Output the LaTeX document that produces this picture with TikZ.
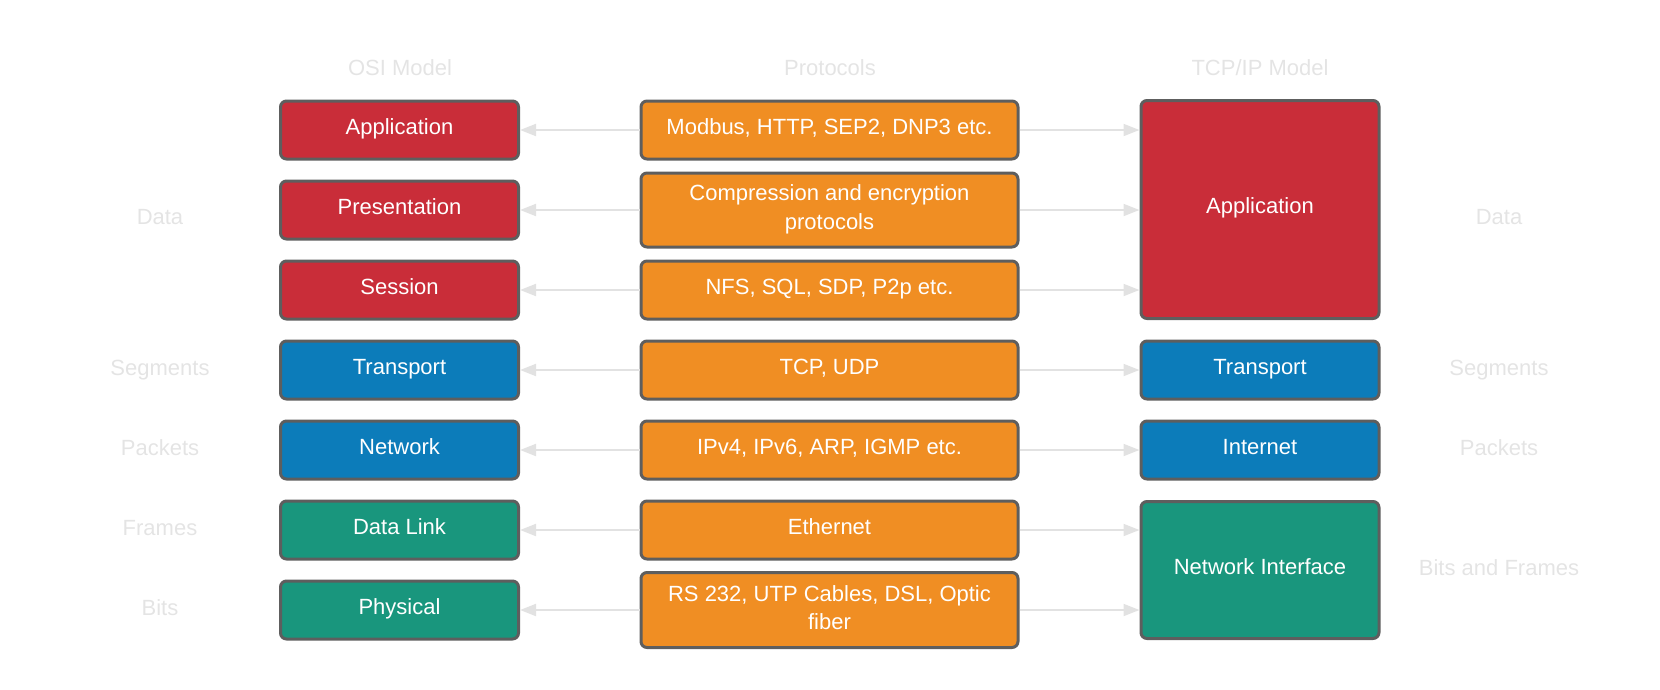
\documentclass[tikz,border=0pt]{standalone}
\usepackage{fontspec}
\setmainfont{Liberation Sans}
\usetikzlibrary{arrows.meta}
\definecolor{cred}{HTML}{C92D39}
\definecolor{cblue}{HTML}{0C7CBA}
\definecolor{cgreen}{HTML}{19967D}
\definecolor{corange}{HTML}{F08E23}
\definecolor{cborder}{HTML}{5E5E5E}
\definecolor{clabel}{HTML}{E4E4E4}
\definecolor{carrow}{HTML}{E2E2E2}
\newcommand{\twolines}[2]{\raisebox{0.5pt}[\height][\depth]{\renewcommand{\arraystretch}{1.07}\begin{tabular}{@{}c@{}}#1\\#2\end{tabular}}}
\begin{document}
\begin{tikzpicture}[x=1pt,y=-1pt,
  layer/.style={draw=cborder,line width=3pt,rounded corners=6pt,text=white,
    font=\fontsize{22}{26.5}\selectfont,align=center,inner sep=0pt,
    minimum width=238pt,minimum height=58pt},
  single/.style={text height=16pt,text depth=7.5pt},
  osi/.style={layer,single},
  proto/.style={layer,fill=corange,minimum width=377pt},
  tcp/.style={layer,single},
  lbl/.style={text=clabel,font=\fontsize{22}{26}\selectfont,inner sep=0pt},
  conn/.style={draw=carrow,line width=2pt,-{Triangle[length=16pt,width=12pt]}}]
\useasboundingbox (0,0) rectangle (1660,689);
% headers
\node[lbl] (hosi) at (400,68) {OSI Model};
\node[lbl] (hpro) at (830,68) {Protocols};
\node[lbl] (htcp) at (1260,68) {TCP/IP Model};
% OSI
\node[osi,fill=cred] (o1) at (399.5,130) {Application};
\node[osi,fill=cred] (o2) at (399.5,210) {Presentation};
\node[osi,fill=cred] (o3) at (399.5,290) {Session};
\node[osi,fill=cblue] (o4) at (399.5,370) {Transport};
\node[osi,fill=cblue] (o5) at (399.5,450) {Network};
\node[osi,fill=cgreen] (o6) at (399.5,530) {Data Link};
\node[osi,fill=cgreen] (o7) at (399.5,610) {Physical};
% protocols
\node[proto,single] (p1) at (829.5,130) {Modbus, HTTP, SEP2, DNP3 etc.};
\node[proto,minimum height=74pt] (p2) at (829.5,210) {\twolines{Compression and encryption}{protocols}};
\node[proto,single] (p3) at (829.5,290) {NFS, SQL, SDP, P2p etc.};
\node[proto,single] (p4) at (829.5,370) {TCP, UDP};
\node[proto,single] (p5) at (829.5,450) {IPv4, IPv6, ARP, IGMP etc.};
\node[proto,single] (p6) at (829.5,530) {Ethernet};
\node[proto,minimum height=75pt] (p7) at (829.5,610) {\twolines{RS 232, UTP Cables, DSL, Optic}{fiber}};
% TCP/IP
\node[tcp,fill=cred,minimum height=218pt] (t1) at (1260,209.5) {Application};
\node[tcp,fill=cblue] (t2) at (1260,370) {Transport};
\node[tcp,fill=cblue] (t3) at (1260,450) {Internet};
\node[tcp,fill=cgreen,minimum height=137pt] (t4) at (1260,570) {Network Interface};
% side labels
\node[lbl] (ld) at (160,217) {Data};
\node[lbl] (ls) at (160,370) {Segments};
\node[lbl] (lp) at (160,448) {Packets};
\node[lbl] (lf) at (160,528) {Frames};
\node[lbl] (lb) at (160,608) {Bits};
\node[lbl] (rd) at (1499,217) {Data};
\node[lbl] (rs) at (1499,370) {Segments};
\node[lbl] (rp) at (1499,448) {Packets};
\node[lbl] (rb) at (1499,568) {Bits and Frames};
% connectors
\foreach \i in {1,...,7} {\draw[conn] (p\i.west) -- (o\i.east);}
\draw[conn] (p1.east) -- (t1.west |- p1.east);
\draw[conn] (p2.east) -- (t1.west |- p2.east);
\draw[conn] (p3.east) -- (t1.west |- p3.east);
\draw[conn] (p4.east) -- (t2.west);
\draw[conn] (p5.east) -- (t3.west);
\draw[conn] (p6.east) -- (t4.west |- p6.east);
\draw[conn] (p7.east) -- (t4.west |- p7.east);
\end{tikzpicture}
\end{document}
